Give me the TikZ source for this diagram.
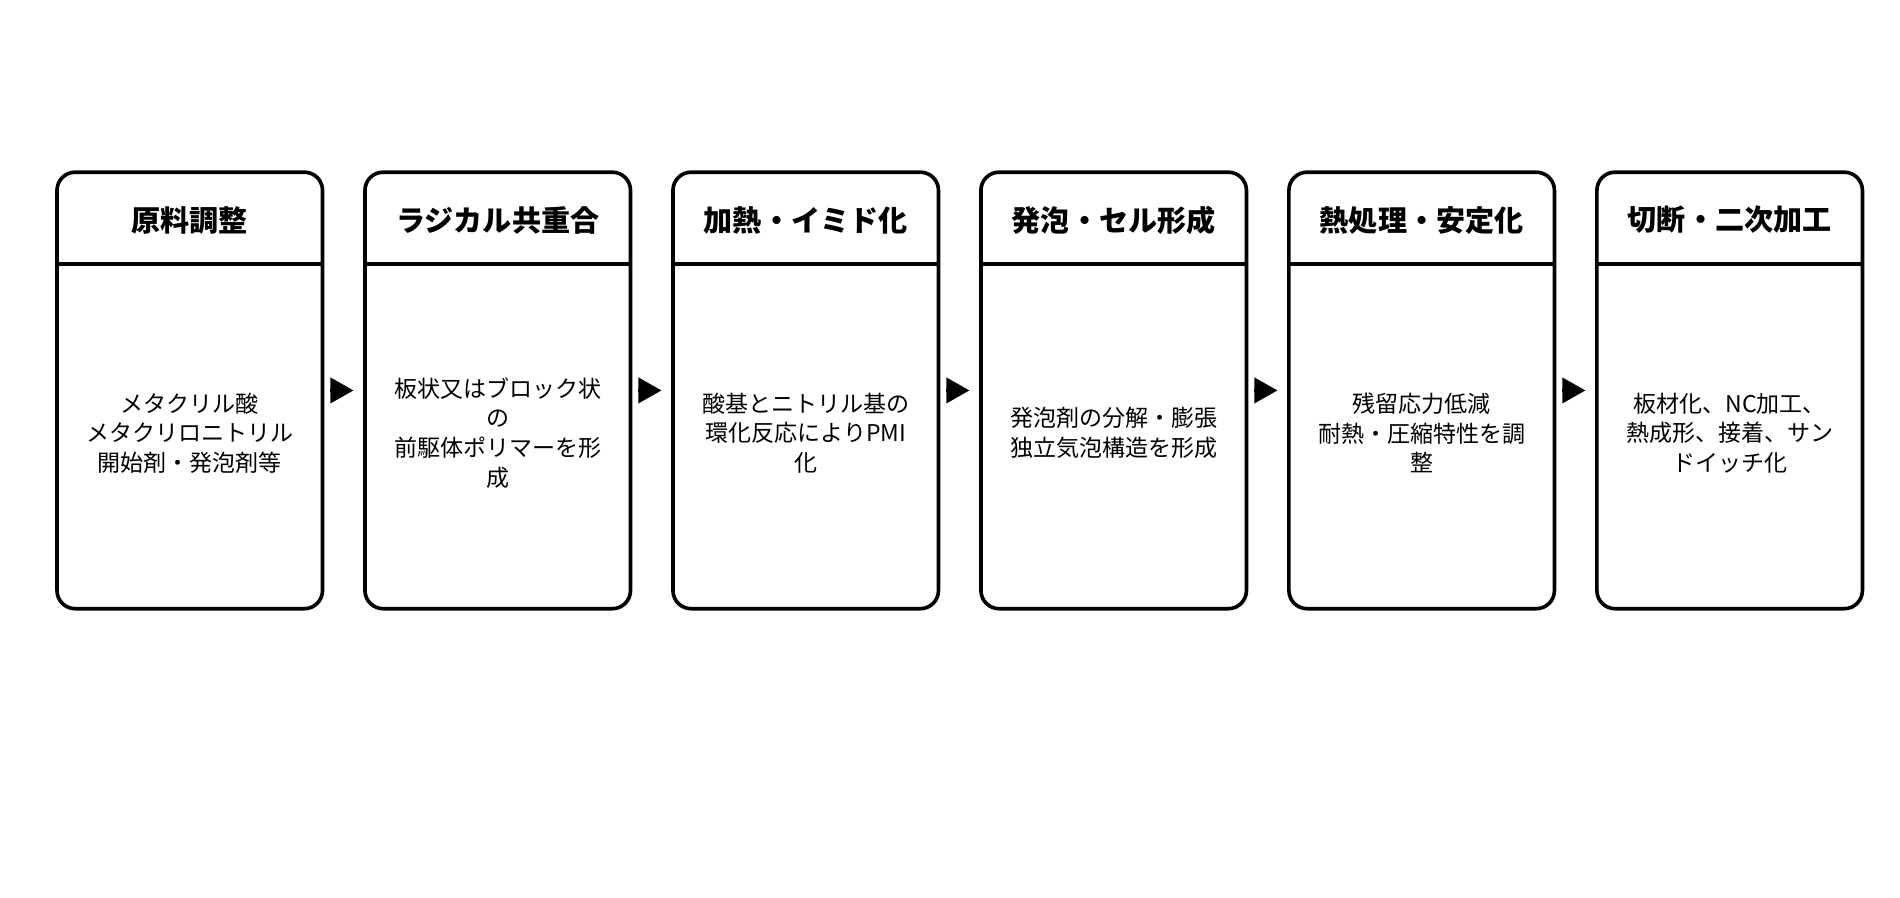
\documentclass[tikz,border=0pt]{standalone}
\usepackage{fontspec}
\setmainfont{Noto Sans CJK JP}
\usetikzlibrary{positioning,arrows.meta}
\tikzset{
  stage/.style={draw, line width=1.5pt, rounded corners=7.5pt, minimum width=109.5pt,
    minimum height=180pt, inner sep=0pt},
  head/.style={font=\bfseries\fontsize{12}{14}\selectfont},
  body/.style={align=center, font=\fontsize{9.5}{12.2}\selectfont},
  flow/.style={-{Triangle[length=9.5pt,width=10.5pt]}, line width=1pt,
    shorten <=2.5pt, shorten >=4pt}
}
\begin{document}
\begin{tikzpicture}[x=0.5pt,y=-0.5pt]
  \useasboundingbox (0,0) rectangle (1567,740);

  % process stages
  \node[stage] (b1) at (156.5,322) {};
  \node[stage, right=16pt of b1] (b2) {};
  \node[stage, right=16pt of b2] (b3) {};
  \node[stage, right=16pt of b3] (b4) {};
  \node[stage, right=16pt of b4] (b5) {};
  \node[stage, right=16pt of b5] (b6) {};

  % header lines and texts
  \foreach \b/\t/\d in {b1/原料調整/メタクリル酸\\メタクリロニトリル\\開始剤・発泡剤等,
      b2/ラジカル共重合/板状又はブロック状\\の\\前駆体ポリマーを形\\成,
      b3/加熱・イミド化/酸基とニトリル基の\\環化反応によりPMI\\化,
      b4/発泡・セル形成/発泡剤の分解・膨張\\独立気泡構造を形成,
      b5/熱処理・安定化/残留応力低減\\耐熱・圧縮特性を調\\整,
      b6/切断・二次加工/板材化、NC加工、\\熱成形、接着、サン\\ドイッチ化} {
    \draw[line width=1.5pt] ([yshift=-38.5pt]\b.north west) -- ([yshift=-38.5pt]\b.north east);
    \node[head] (\b h) at ([yshift=-20.5pt]\b.north) {\t};
    \node[body] (\b t) at ([yshift=-17.5pt]\b.center) {\d};
  }

  % arrows between stages
  \foreach \a/\c in {b1/b2,b2/b3,b3/b4,b4/b5,b5/b6}
    \draw[flow] (\a.east) -- (\c.west);
\end{tikzpicture}
\end{document}
